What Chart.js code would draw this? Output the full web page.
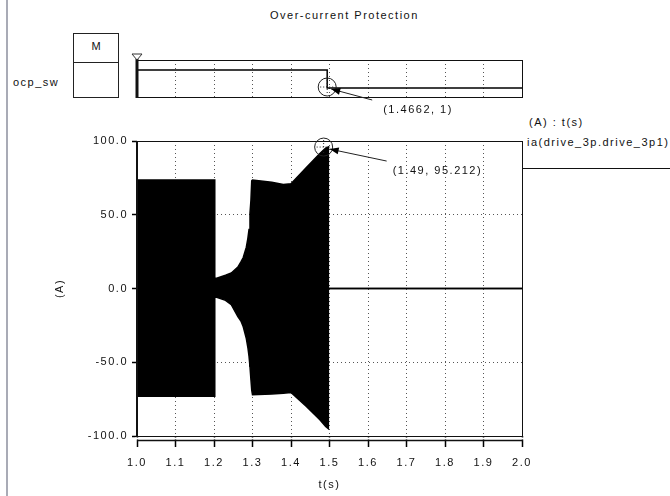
<!DOCTYPE html>
<html lang="en">
<head>
<meta charset="UTF-8">
<title>Over-current Protection</title>
<script src="https://cdn.jsdelivr.net/npm/chart.js"></script>
<style>
  body { margin: 0; background: #fff; font-family: "Liberation Sans", Arial, sans-serif; }
  #page { position: relative; width: 670px; height: 496px; overflow: hidden; background: #fff; }
  .txt { position: absolute; font-size: 11px; letter-spacing: 1.5px; color: #111; white-space: nowrap; line-height: 13px; }
  .edge { position: absolute; left: 6px; top: 0; width: 2px; height: 496px; background: #a9abb6; }
  #mbox { position: absolute; left: 73px; top: 33px; width: 44px; height: 63px; border: 1px solid #222; }
  #mbox div { height: 28px; border-bottom: 1px solid #222; text-align: center; font-size: 11px; line-height: 24px; color: #111; }
  .rule { position: absolute; left: 522px; top: 168px; width: 148px; height: 1px; background: #111; }
  canvas { position: absolute; left: 0; top: 0; }
</style>
</head>
<body>
<div id="page">
  <div class="edge"></div>
  <div class="txt" style="left:270px; top:9px;">Over-current Protection</div>
  <div id="mbox"><div>M</div></div>
  <div class="txt" style="left:13px; top:76px;">ocp_sw</div>
  <div class="txt" style="left:529px; top:116px;">(A) : t(s)</div>
  <div class="txt" style="left:527px; top:136px;">ia(drive_3p.drive_3p1)</div>
  <div class="rule"></div>
  <canvas id="mainChart" width="670" height="496"></canvas>
  <canvas id="swChart" width="670" height="120"></canvas>
</div>

<script>
  // time axis shared by both traces
  const xTicks = [1.0, 1.1, 1.2, 1.3, 1.4, 1.5, 1.6, 1.7, 1.8, 1.9, 2.0];
  const yTicks = [-100, -50, 0, 50, 100];

  // ocp_sw digital trace
  const swTime = [1.0, 1.494, 1.494, 2.0];
  const swLevel = [1, 1, 0, 0];
  const swCursor = { t: 1.4662, v: 1, label: '(1.4662, 1)' };

  // ia phase current: upper and lower envelope of the switching waveform
  const iaTime = [1.0, 1.202, 1.202, 1.207, 1.23, 1.245, 1.262, 1.27, 1.276, 1.284, 1.288, 1.291,
                  1.2935, 1.296, 1.298, 1.3, 1.35, 1.38, 1.4, 1.44, 1.475, 1.49, 1.497, 1.497, 2.0];
  const iaUpper = [73.5, 73.5, 7, 7, 9, 10.5, 14.5, 18, 21, 28, 34, 40,
                   51, 60, 73, 73.5, 72, 70.5, 71, 82, 91.5, 95.212, 96, 0, 0];
  const iaLower = [-73, -73, -6, -6, -8, -11, -19, -22, -26, -34, -40, -46,
                   -53, -62, -69, -72, -71.5, -71, -70.5, -80, -89, -93.5, -95, 0, 0];
  const iaCursor = { t: 1.49, v: 95.212, label: '(1.49, 95.212)' };

  const FONT = '"Liberation Sans", Arial, sans-serif';
  Chart.defaults.font.family = FONT;
  Chart.defaults.font.size = 11;
  Chart.defaults.color = '#111';

  const pts = (xs, ys) => xs.map((x, i) => ({ x: x, y: ys[i] }));
  const fixedTicks = list => s => { s.ticks = list.map(v => ({ value: v })); };

  function spacing(chart) { chart.ctx.letterSpacing = '1.5px'; }

  function line(ctx, x1, y1, x2, y2) {
    ctx.beginPath(); ctx.moveTo(x1, y1); ctx.lineTo(x2, y2); ctx.stroke();
  }

  // round cursor marker with a leader line running back to its readout
  function drawCursor(ctx, px, py, cx, cy, text, off) {
    ctx.save();
    ctx.strokeStyle = '#222';
    ctx.lineWidth = 1;
    ctx.beginPath(); ctx.arc(cx, cy, 9, 0, Math.PI * 2); ctx.stroke();
    ctx.setLineDash([1, 2]);
    line(ctx, cx - 7, cy, cx + 7, cy);
    line(ctx, cx, cy - 7, cx, cy + 7);
    ctx.setLineDash([]);
    const sx = px + off.lx, sy = py + off.ly;
    const ex = px + 4, ey = py + 1;
    line(ctx, sx, sy, ex, ey);
    const ang = Math.atan2(ey - sy, ex - sx);
    ctx.fillStyle = '#000';
    ctx.beginPath();
    ctx.moveTo(ex, ey);
    ctx.lineTo(ex - 9 * Math.cos(ang) + 3.5 * Math.sin(ang), ey - 9 * Math.sin(ang) - 3.5 * Math.cos(ang));
    ctx.lineTo(ex - 9 * Math.cos(ang) - 3.5 * Math.sin(ang), ey - 9 * Math.sin(ang) + 3.5 * Math.cos(ang));
    ctx.closePath(); ctx.fill();
    ctx.font = '11px ' + FONT;
    ctx.letterSpacing = '1.5px';
    ctx.fillStyle = '#111';
    ctx.textBaseline = 'middle';
    ctx.fillText(text, px + off.tx, py + off.ty);
    ctx.restore();
  }

  const mainFrame = {
    id: 'mainFrame',
    beforeUpdate: spacing,
    beforeDraw: spacing,
    afterDraw(chart) {
      const { ctx, chartArea: a, scales } = chart;
      ctx.save();
      ctx.strokeStyle = '#111';
      ctx.lineWidth = 1;
      ctx.strokeRect(a.left + 0.5, a.top + 0.5, a.width, a.height);
      ctx.lineWidth = 2;
      line(ctx, a.left, a.top, a.left, a.bottom + 1);
      // detached time axis just under the plot box
      ctx.fillStyle = '#fff';
      ctx.fillRect(a.left - 2, a.bottom + 1.5, a.width + 4, 2);
      ctx.lineWidth = 1.5;
      line(ctx, a.left, a.bottom + 4.5, a.right + 1, a.bottom + 4.5);
      ctx.restore();

      const px = scales.x.getPixelForValue(iaCursor.t);
      const py = scales.y.getPixelForValue(iaCursor.v);
      drawCursor(ctx, px, py, px - 2, py - 1, iaCursor.label, { lx: 61, ly: 13, tx: 67, ty: 23 });
    }
  };

  const swFrame = {
    id: 'swFrame',
    beforeUpdate: spacing,
    beforeDraw: spacing,
    afterDraw(chart) {
      const { ctx, chartArea: a, scales } = chart;
      ctx.save();
      ctx.strokeStyle = '#111';
      ctx.lineWidth = 1;
      ctx.strokeRect(a.left + 0.5, a.top + 0.5, a.width, a.height);
      ctx.lineWidth = 3;
      line(ctx, a.left, a.top - 1, a.left, a.bottom + 1);
      // start marker
      ctx.lineWidth = 1;
      ctx.strokeStyle = '#333';
      ctx.beginPath();
      ctx.moveTo(a.left - 5, a.top - 6);
      ctx.lineTo(a.left + 5, a.top - 6);
      ctx.lineTo(a.left, a.top);
      ctx.closePath(); ctx.stroke();
      ctx.restore();

      const trip = swTime[2];
      const px = scales.x.getPixelForValue(trip);
      const py = scales.y.getPixelForValue(swLevel[2]);
      drawCursor(ctx, px, py, px, py - 1, swCursor.label, { lx: 45, ly: 12, tx: 56, ty: 22 });
    }
  };

  new Chart(document.getElementById('mainChart'), {
    type: 'line',
    data: {
      datasets: [
        {
          label: 'ia upper',
          data: pts(iaTime, iaUpper),
          borderColor: '#000',
          backgroundColor: '#000',
          borderWidth: 1.5,
          pointRadius: 0,
          fill: '+1'
        },
        {
          label: 'ia lower',
          data: pts(iaTime, iaLower),
          borderColor: '#000',
          borderWidth: 1.5,
          pointRadius: 0,
          fill: false
        }
      ]
    },
    options: {
      responsive: false,
      animation: false,
      events: [],
      layout: { padding: { left: 49, right: 148, top: 141, bottom: 0 } },
      plugins: { legend: { display: false }, tooltip: { enabled: false } },
      scales: {
        x: {
          type: 'linear',
          min: 1,
          max: 2,
          afterBuildTicks: fixedTicks(xTicks),
          afterFit: s => { s.height = 60; },
          ticks: { callback: v => v.toFixed(1), padding: 9, maxRotation: 0, autoSkip: false },
          grid: { color: '#555', tickColor: '#000', tickLength: 11, tickWidth: 1.5, tickBorderDash: [] },
          border: { display: false, dash: [1, 3] },
          title: { display: true, text: 't(s)', padding: { top: 0, bottom: 4 } }
        },
        y: {
          min: -100,
          max: 100,
          afterBuildTicks: fixedTicks(yTicks),
          afterFit: s => { s.width = 88; },
          ticks: { callback: v => v.toFixed(1), padding: 4 },
          grid: { color: '#555', tickColor: '#000', tickLength: 5, tickWidth: 1.5, tickBorderDash: [] },
          border: { display: false, dash: [1, 3] },
          title: { display: true, text: '(A)' }
        }
      }
    },
    plugins: [mainFrame]
  });

  new Chart(document.getElementById('swChart'), {
    type: 'line',
    data: {
      datasets: [{
        label: 'ocp_sw',
        data: pts(swTime, swLevel),
        borderColor: '#000',
        borderWidth: 1.5,
        pointRadius: 0,
        fill: false
      }]
    },
    options: {
      responsive: false,
      animation: false,
      events: [],
      layout: { padding: { left: 137, right: 148, top: 60, bottom: 23 } },
      plugins: { legend: { display: false }, tooltip: { enabled: false } },
      scales: {
        x: {
          type: 'linear',
          min: 1,
          max: 2,
          afterBuildTicks: fixedTicks(xTicks),
          afterFit: s => { s.height = 0; },
          ticks: { display: false },
          grid: { color: '#555', drawTicks: false },
          border: { display: false, dash: [1, 3] }
        },
        y: { display: false, min: -0.5, max: 1.556 }
      }
    },
    plugins: [swFrame]
  });
</script>
</body>
</html>
